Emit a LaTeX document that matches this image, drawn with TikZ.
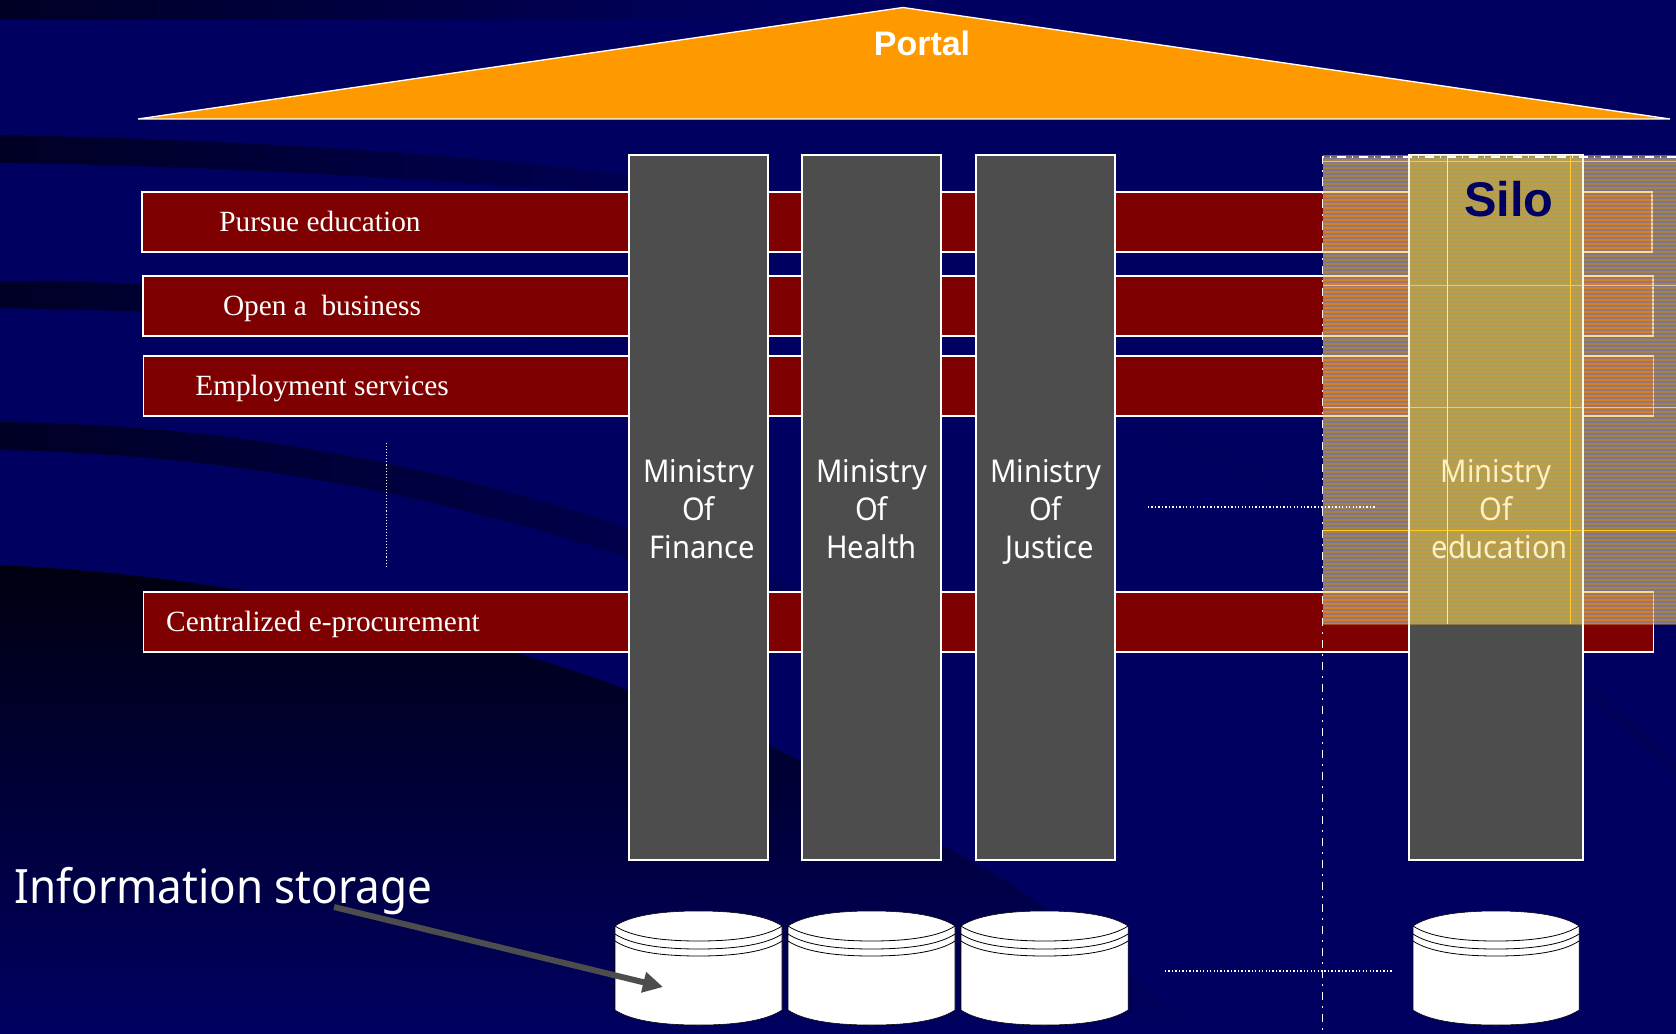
\documentclass[tikz,border=0pt]{standalone}
\usepackage{fontspec}
\setmainfont{Liberation Serif}
\newfontfamily\arialf{Liberation Sans}
\newfontfamily\tahomaf[FakeStretch=0.93]{Noto Sans}
\usetikzlibrary{arrows.meta,shapes.geometric}
\definecolor{bgblue}{HTML}{000060}
\definecolor{bgdark}{HTML}{000025}
\definecolor{bgmid}{HTML}{000042}
\definecolor{bgblack}{HTML}{000010}
\definecolor{band}{HTML}{7F0000}
\definecolor{pillar}{HTML}{4D4D4D}
\definecolor{roof}{HTML}{FF9900}
\definecolor{siloy}{HTML}{FFCC33}
\definecolor{silolilac}{HTML}{8888D0}
\definecolor{silopale}{HTML}{C8C8A8}
\tikzset{
  x=0.75pt,y=-0.75pt,
  barbox/.style={draw=white,line width=1.2pt,fill=band,minimum height=45pt,minimum width=1132.5pt,anchor=north west,inner sep=0pt,outer sep=0pt},
  barlabel/.style={text=white,font=\fontsize{22pt}{26pt}\selectfont,inner sep=0pt,anchor=base},
  pillarbox/.style={draw=white,line width=1.5pt,fill=pillar,anchor=north west,inner sep=0pt,outer sep=0pt,minimum height=528.75pt},
  pillartext/.style={text=white,font=\tahomaf\fontsize{23.5pt}{28.6pt}\selectfont,align=center,inner sep=0pt},
  dotline/.style={white,line width=1pt,dash pattern=on 1pt off 1.6pt},
  thindot/.style={white,line width=0.7pt,dash pattern=on 0.8pt off 1.5pt},
}
\newcommand{\dbcyl}[3]{% left, right, name
  \fill[white,draw=black,line width=0.4pt] (#1,926) -- (#1,1010) .. controls ({#1+15},1020) and ({(#1+#2)/2-40},1025) .. ({(#1+#2)/2},1025) .. controls ({(#1+#2)/2+40},1025) and ({#2-15},1020) .. (#2,1010) -- (#2,926) .. controls ({#2-15},916) and ({(#1+#2)/2+40},911) .. ({(#1+#2)/2},911) .. controls ({(#1+#2)/2-40},911) and ({#1+15},916) .. (#1,926) -- cycle;
  \foreach \dy in {0,8,15}{
    \draw[black,line width=0.6pt] (#1,926+\dy) .. controls ({#1+15},936+\dy) and ({(#1+#2)/2-40},941+\dy) .. ({(#1+#2)/2},941+\dy) .. controls ({(#1+#2)/2+40},941+\dy) and ({#2-15},936+\dy) .. (#2,926+\dy);
  }
  \coordinate (#3) at ({(#1+#2)/2},968);
}
\begin{document}
\begin{tikzpicture}
\useasboundingbox (0,0) rectangle (1676,1034);
\clip (0,0) rectangle (1676,1034);
% background
\fill[bgblue] (0,0) rectangle (1676,1034);
\shade[left color=bgdark,right color=bgblue] (0,0) rectangle (800,20);
\shade[left color=bgdark,right color=bgblue!90!black] (0,135) .. controls (250,140) and (500,155) .. (700,185) -- (700,200) .. controls (450,180) and (200,165) .. (0,163) -- cycle;
\shade[left color=bgdark,right color=bgblue] (0,281) .. controls (50,281) and (100,282) .. (150,285) -- (700,350) -- (150,312) .. controls (100,310) and (50,309) .. (0,308) -- cycle;
\shade[left color=bgdark,right color=bgblue!90!black] (0,422) .. controls (250,425) and (500,470) .. (800,590) -- (800,620) .. controls (500,500) and (250,455) .. (0,450) -- cycle;
\shade[top color=bgblack,middle color=bgmid,bottom color=bgblue] (0,565) .. controls (100,570) and (180,580) .. (250,592) .. controls (400,620) and (520,650) .. (628,690) .. controls (700,715) and (760,740) .. (800,761) .. controls (870,800) and (930,840) .. (1000,877) .. controls (1080,930) and (1150,990) .. (1200,1034) -- (0,1034) -- cycle;
\shade[left color=bgblue,right color=bgdark!60!bgblue,opacity=0.2] (1130,415) .. controls (1300,470) and (1500,600) .. (1676,760) -- (1676,775) .. controls (1500,620) and (1300,490) .. (1130,425) -- cycle;
% roof
\filldraw[fill=roof,draw=white,line width=1pt] (138,119) -- (903,7.5) -- (1670,119) -- cycle;
\node[text=white,font=\arialf\bfseries\fontsize{25.5pt}{30pt}\selectfont,inner sep=0pt] (portal) at (922,43) {Portal};
% service bars
\node[barbox] (b1) at (142,192) {};
\node[barbox] (b2) at (143,276) {};
\node[barbox] (b3) at (143.5,356) {};
\node[barbox] (b4) at (143.5,592) {};
\node[barlabel] (t1) at (320,231.5) {Pursue education};
\node[barlabel] (t2) at (322,315) {Open a\ \ business};
\node[barlabel] (t3) at (322,395.5) {Employment services};
\node[barlabel] (t4) at (323,631.5) {Centralized e-procurement};
% pillars
\node[pillarbox,minimum width=104.25pt] (p1) at (629,155) {};
\node[pillarbox,minimum width=104.25pt] (p2) at (802,155) {};
\node[pillarbox,minimum width=104.25pt] (p3) at (976,155) {};
\node[pillarbox,minimum width=130.5pt] (p4) at (1409,155) {};
\node[pillartext] (m1) at (698.5,512.5) {Ministry\\Of\\\ Finance\vphantom{y}};
\node[pillartext] (m2) at (871.5,512.5) {Ministry\\Of\\Health\vphantom{y}};
\node[pillartext] (m3) at (1045.5,512.5) {Ministry\\Of\\\ Justice\vphantom{y}};
% silo overlay
\fill[siloy,fill opacity=0.46] (1323,155) rectangle (1676,624);
\foreach \yy in {158,162,...,622}{
  \draw[silolilac,opacity=0.55,line width=1pt] (1323,\yy) -- (1409,\yy) (1583,\yy) -- (1676,\yy);
  \draw[silopale,opacity=0.35,line width=0.9pt] (1409,\yy) -- (1583,\yy);
  \draw[siloy,opacity=0.35,line width=0.8pt] (1323,\yy+2) -- (1676,\yy+2);
}
\draw[siloy,line width=0.55pt] (1323,161) -- (1676,161) (1323,285) -- (1676,285) (1323,407) -- (1676,407) (1323,530) -- (1676,530);
\draw[siloy!40!white,line width=0.55pt] (1447,155) -- (1447,624);
\draw[siloy,line width=0.55pt] (1570,155) -- (1570,624);
\draw[white,opacity=0.8,line width=1.2pt] (1409,155) -- (1409,624) (1583,155) -- (1583,624);
\node[pillartext,text=siloy!30!white] (m4) at (1496,512.5) {Ministry\\Of\\\ education\vphantom{y}};
\node[text=bgblue,font=\arialf\bfseries\fontsize{36.5pt}{40pt}\selectfont,inner sep=0pt] (silo) at (1509,199) {Silo};
% boundary and dots
\coordinate (sA) at (1676,157);
\coordinate (sB) at (1322.5,157);
\coordinate (sC) at (1322.5,1034);
\draw[white,line width=1.4pt,dash pattern=on 6.5pt off 4.5pt on 1.2pt off 4.3pt] (sA) -- (sB) -- (sC);
\coordinate (dA1) at (386,443); \coordinate (dA2) at (386,568);
\coordinate (dB1) at (1148,507); \coordinate (dB2) at (1375,507);
\coordinate (dC1) at (1165,971); \coordinate (dC2) at (1392,971);
\draw[thindot] (dA1) -- (dA2);
\draw[dotline] (dB1) -- (dB2);
\draw[dotline] (dC1) -- (dC2);
% storage
\dbcyl{615}{782}{c1}
\dbcyl{788}{955}{c2}
\dbcyl{961}{1128}{c3}
\dbcyl{1413}{1579}{c4}
\node[anchor=west,text=white,font=\tahomaf\fontsize{35.5pt}{40pt}\selectfont,inner sep=0pt] (info) at (14,891) {Information storage};
\coordinate (aS) at (334,907);
\coordinate (aT) at (663,987);
\draw[pillar,line width=4.5pt,-{Triangle[length=15pt,width=15pt]}] (aS) -- (aT);
\end{tikzpicture}
\end{document}
